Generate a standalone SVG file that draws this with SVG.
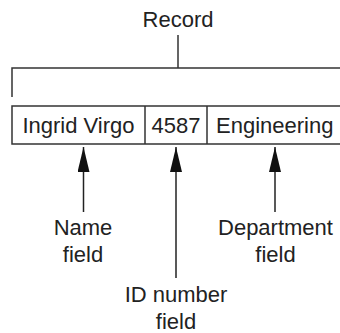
<svg xmlns="http://www.w3.org/2000/svg" width="340" height="333" viewBox="0 0 340 333">
<defs>
<style>
text{font-family:"Liberation Sans",Arial,sans-serif;font-size:22px;fill:#222;text-anchor:middle}
text.st{text-anchor:start}
.ln{stroke:#333;stroke-width:1.5;fill:none}
.ar{stroke:#222;stroke-width:1.5;fill:none}
</style>
<marker id="ah" viewBox="0 0 25 12" refX="25" refY="6" markerWidth="25" markerHeight="12" markerUnits="userSpaceOnUse" orient="auto">
<path d="M25,6 L0,0 L0,12 Z" fill="#111"/>
</marker>
</defs>
<g id="record-label">
<text x="178" y="27">Record</text>
</g>
<g id="bracket">
<path class="ln" d="M178,35 V68 M12,97 V68 H340"/>
</g>
<g id="record-box">
<path class="ln" d="M340,106 H12 V144 H340 M145,106 V144 M207,106 V144"/>
<text x="78.5" y="133">Ingrid Virgo</text>
<text x="176" y="133">4587</text>
<text class="st" x="216" y="133">Engineering</text>
</g>
<g id="connectors">
<line class="ar" x1="83.5" y1="212" x2="83.5" y2="147" marker-end="url(#ah)"/>
<line class="ar" x1="176" y1="278" x2="176" y2="147" marker-end="url(#ah)"/>
<line class="ar" x1="275" y1="212" x2="275" y2="147" marker-end="url(#ah)"/>
</g>
<g id="name-field">
<text x="83" y="235">Name</text>
<text x="83" y="262">field</text>
</g>
<g id="dept-field">
<text x="275.5" y="235">Department</text>
<text x="275.5" y="262">field</text>
</g>
<g id="id-field">
<text x="176" y="302">ID number</text>
<text x="176" y="329">field</text>
</g>
</svg>
